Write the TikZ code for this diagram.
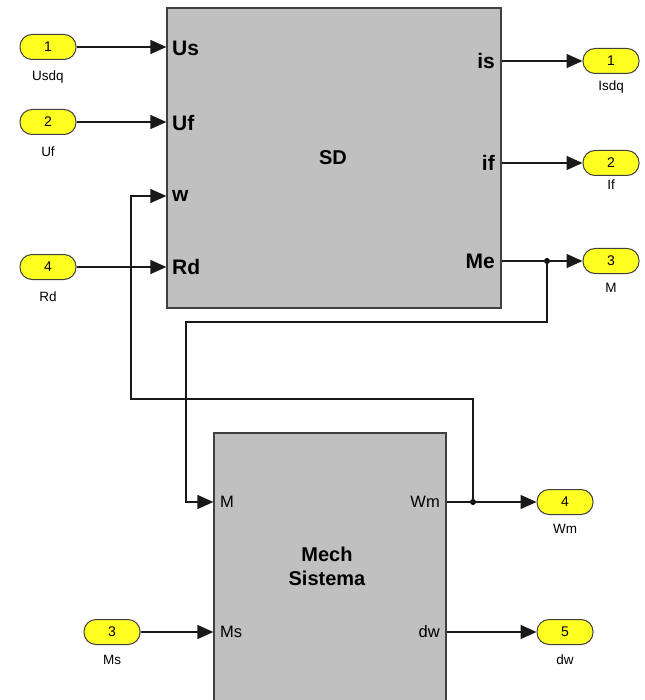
\documentclass[tikz,border=0pt]{standalone}
\usepackage{fontspec}
\setmainfont{Liberation Sans}
\usetikzlibrary{arrows.meta}
\definecolor{blkgray}{HTML}{C0C0C0}
\definecolor{edge}{HTML}{404040}
\definecolor{portyel}{HTML}{FFFF22}
\begin{document}
\begin{tikzpicture}[x=1pt,y=-1pt,
  blk/.style={draw=edge,fill=blkgray,line width=1.3pt,inner sep=0pt},
  port/.style={draw=edge,fill=portyel,rounded corners=12pt,minimum width=56pt,minimum height=25pt,inner sep=0pt,line width=1pt,font=\fontsize{14}{14}\selectfont},
  plabel/.style={font=\fontsize{13.5}{13.5}\selectfont,inner sep=0pt},
  biglbl/.style={font=\fontsize{21}{21}\selectfont\bfseries,inner sep=0pt},
  mlbl/.style={font=\fontsize{16.5}{16.5}\selectfont,inner sep=0pt},
  wire/.style={line width=1.3pt,draw=black!90},
  arr/.style={wire,-{Triangle[length=16pt,width=14pt]}},
  dot/.style={circle,fill=black,inner sep=0pt,minimum size=6pt}
]
\useasboundingbox (0,0) rectangle (644,700);
% blocks
\node[blk,minimum width=334pt,minimum height=300pt] (SD) at (334,158) {};
\node[font=\fontsize{20}{20}\selectfont\bfseries] (SDt) at (333,158) {SD};
\node[blk,minimum width=232pt,minimum height=268pt] (MS) at (330,567) {};
\node[font=\fontsize{20}{24}\selectfont\bfseries,align=center] (MSt) at (327,566) {Mech\\Sistema};
% SD port labels
\node[biglbl,anchor=west] (lUs) at (172,48) {Us};
\node[biglbl,anchor=west] (lUf) at (172,123) {Uf};
\node[biglbl,anchor=west] (lw) at (172,196) {w};
\node[biglbl,anchor=west] (lRd) at (172,267) {Rd};
\node[biglbl,anchor=east] (lis) at (495,61) {is};
\node[biglbl,anchor=east] (lif) at (495,163) {if};
\node[biglbl,anchor=east] (lMe) at (495,261) {Me};
% Mech port labels
\node[mlbl,anchor=west] (lM) at (220,502) {M};
\node[mlbl,anchor=west] (lMs) at (220,632) {Ms};
\node[mlbl,anchor=east] (lWm) at (440,502) {Wm};
\node[mlbl,anchor=east] (ldw) at (440,632) {dw};
% inports
\node[port] (in1) at (48,47) {1};
\node[plabel] (tin1) at (48,77) {Usdq};
\node[port] (in2) at (48,122) {2};
\node[plabel] (tin2) at (48,152) {Uf};
\node[port] (in4) at (48,267) {4};
\node[plabel] (tin4) at (48,297) {Rd};
\node[port] (in3) at (112,632) {3};
\node[plabel] (tin3) at (112,660) {Ms};
% outports
\node[port] (out1) at (611,61) {1};
\node[plabel] (tout1) at (611,87) {Isdq};
\node[port] (out2) at (611,163) {2};
\node[plabel] (tout2) at (611,185) {If};
\node[port] (out3) at (611,261) {3};
\node[plabel] (tout3) at (611,288) {M};
\node[port] (out4) at (565,502) {4};
\node[plabel] (tout4) at (565,529) {Wm};
\node[port] (out5) at (565,632) {5};
\node[plabel] (tout5) at (565,660) {dw};
% junctions
\node[dot] (j1) at (547,261) {};
\node[dot] (j2) at (473,502) {};
\coordinate (c1) at (547,322);
\coordinate (c2) at (186,322);
\coordinate (c3) at (473,399);
\coordinate (c4) at (131,399);
% input wires
\draw[arr] (in1.east) -- (in1.east -| SD.west);
\draw[arr] (in2.east) -- (in2.east -| SD.west);
\draw[arr] (in4.east) -- (in4.east -| SD.west);
\draw[arr] (in3.east) -- (in3.east -| MS.west);
% output wires
\draw[arr] (SD.east |- out1.west) -- (out1.west);
\draw[arr] (SD.east |- out2.west) -- (out2.west);
\draw[wire] (SD.east |- j1) -- (j1.center);
\draw[arr] (j1.center) -- (out3.west);
\draw[wire] (MS.east |- j2) -- (j2.center);
\draw[arr] (j2.center) -- (out4.west);
\draw[arr] (MS.east |- out5.west) -- (out5.west);
% feedback wires
\draw[arr] (j1.center) -- (c1) -- (c2) -- (c2 |- lM) -- (MS.west |- lM);
\draw[arr] (j2.center) -- (c3) -- (c4) -- (c4 |- lw) -- (SD.west |- lw);
\end{tikzpicture}
\end{document}
